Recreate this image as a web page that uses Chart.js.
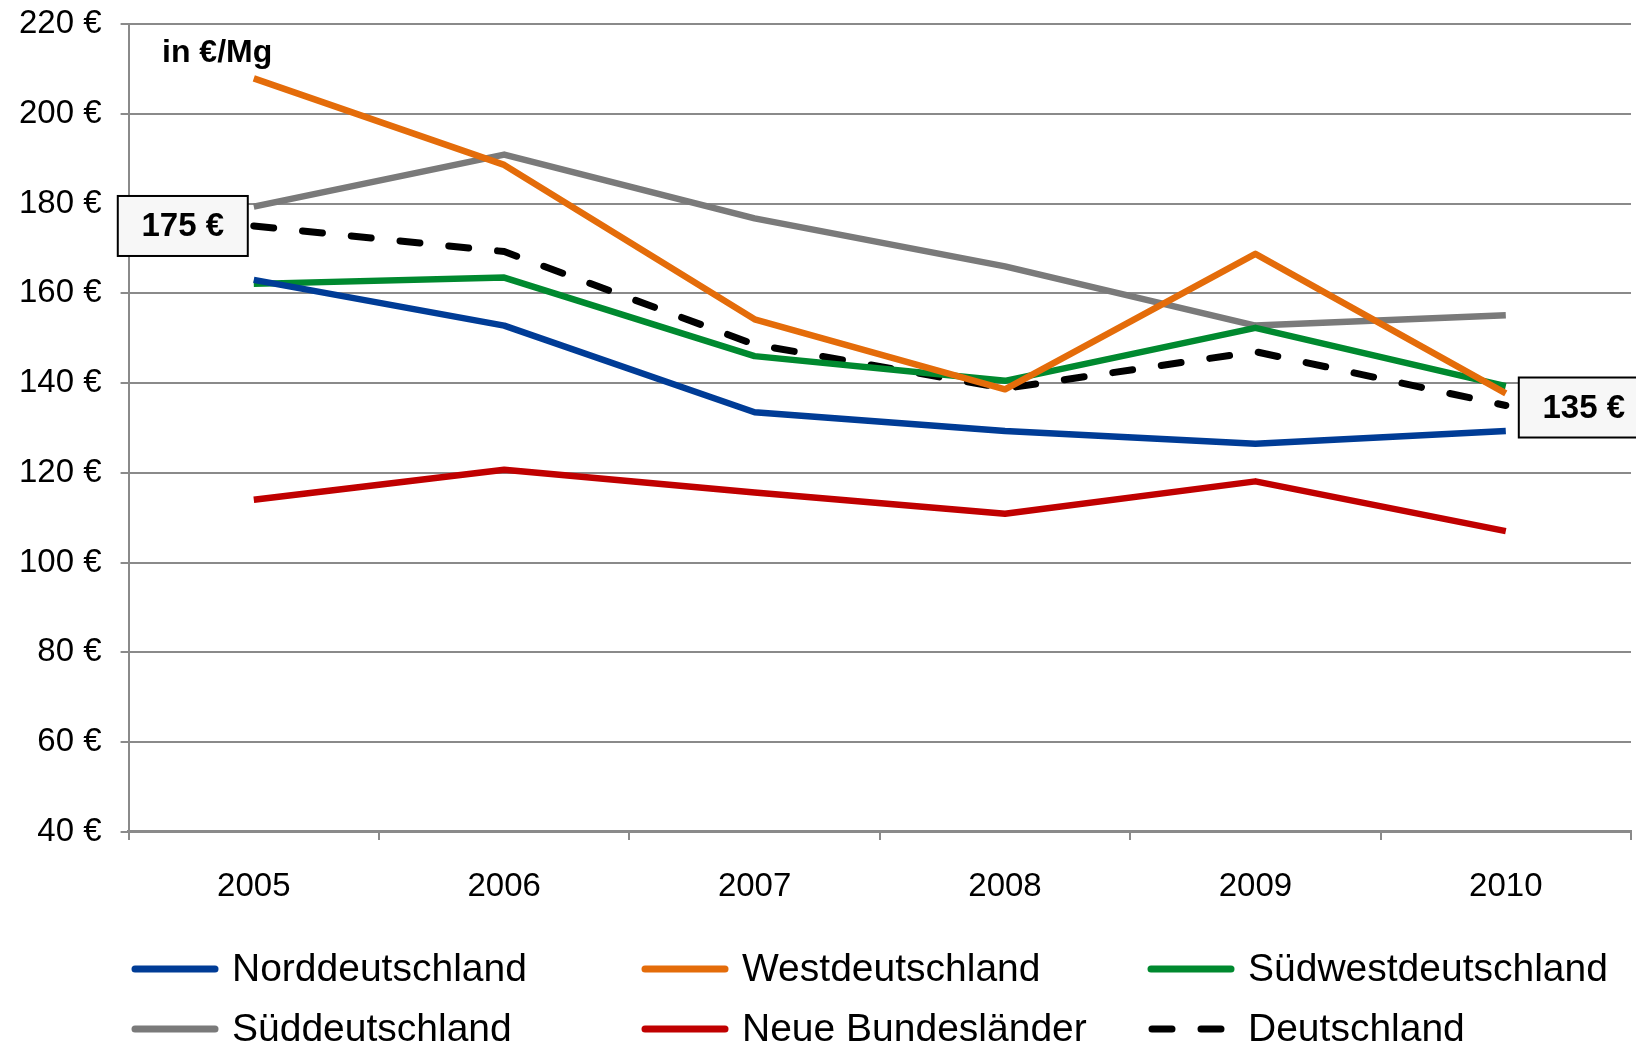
<!DOCTYPE html>
<html>
<head>
<meta charset="utf-8">
<script src="https://cdn.jsdelivr.net/npm/chart.js@4.4.0/dist/chart.umd.min.js"></script>
<style>
  html, body { margin: 0; padding: 0; background: #ffffff; }
  #wrap { position: relative; width: 1636px; height: 1045px; }
</style>
</head>
<body>
<div id="wrap"><canvas id="c" width="1636" height="1045"></canvas></div>
<script>
const years = ['2005', '2006', '2007', '2008', '2009', '2010'];
const norddeutschland   = [163.0, 152.8, 133.5, 129.3, 126.5, 129.3];
const westdeutschland   = [207.9, 188.6, 154.2, 138.6, 168.8, 137.7];
const suedwestdeutschland = [162.1, 163.5, 146.0, 140.5, 152.3, 139.3];
const sueddeutschland   = [179.3, 190.9, 176.7, 166.0, 152.8, 155.1];
const neueBundeslaender = [114.0, 120.7, 115.6, 110.9, 118.1, 107.0];
const deutschland       = [175.0, 169.3, 148.6, 138.8, 147.0, 135.0];
const yTicks = [40, 60, 80, 100, 120, 140, 160, 180, 200, 220];
const unitLabel = 'in €/Mg';

const FONT = '"Liberation Sans", Arial, sans-serif';
const GRID = '#8a8a8a';

const mk = (label, data, color, dash) => ({
  label, data,
  borderColor: color, backgroundColor: color,
  borderWidth: dash ? 7 : 6.5,
  borderDash: dash || [],
  borderCapStyle: dash ? 'round' : 'butt',
  borderJoinStyle: 'round',
  pointRadius: 0, pointHoverRadius: 0,
  tension: 0, fill: false
});

const datasets = [
  mk('Norddeutschland', norddeutschland, '#003c96'),
  mk('Westdeutschland', westdeutschland, '#e46c0a'),
  mk('Südwestdeutschland', suedwestdeutschland, '#00892f'),
  mk('Süddeutschland', sueddeutschland, '#7a7a7a'),
  mk('Neue Bundesländer', neueBundeslaender, '#c00000'),
  mk('Deutschland', deutschland, '#000000', [20, 29])
];

const fmt = v => Math.round(v) + ' €';

const overlay = {
  id: 'overlay',
  afterDatasetsDraw(chart) {
    const ctx = chart.ctx;
    ctx.save();
    // unit label
    ctx.font = 'bold 32px ' + FONT;
    ctx.fillStyle = '#000';
    ctx.textAlign = 'left';
    ctx.textBaseline = 'middle';
    ctx.fillText(unitLabel, 162, 53);

    // value boxes for Deutschland
    const idx = datasets.length - 1;
    const meta = chart.getDatasetMeta(idx);
    const first = meta.data[0], last = meta.data[meta.data.length - 1];
    const data = chart.data.datasets[idx].data;
    const W = 130, H = 60;
    const box = (x, y, txt) => {
      ctx.fillStyle = '#f7f7f7';
      ctx.fillRect(x, y, W, H);
      ctx.lineWidth = 2;
      ctx.strokeStyle = '#000';
      ctx.strokeRect(x, y, W, H);
      ctx.fillStyle = '#000';
      ctx.font = 'bold 33px ' + FONT;
      ctx.textAlign = 'center';
      ctx.textBaseline = 'middle';
      ctx.fillText(txt, x + W / 2, y + H / 2 + 1);
    };
    box(first.x - 6 - W, first.y - H / 2, fmt(data[0]));
    box(last.x + 13, last.y - H / 2 + 2, fmt(data[data.length - 1]));

    // legend
    const cols = [132, 642, 1148];
    const rows = [969, 1029];
    ctx.font = '39px ' + FONT;
    chart.data.datasets.forEach((ds, i) => {
      const cx = cols[i % 3], cy = rows[Math.floor(i / 3)];
      ctx.beginPath();
      ctx.strokeStyle = ds.borderColor;
      ctx.lineWidth = 7;
      ctx.lineCap = 'round';
      if (ds.borderDash && ds.borderDash.length) {
        ctx.setLineDash([20, 29]);
        ctx.moveTo(cx + 4, cy);
      } else {
        ctx.setLineDash([]);
        ctx.moveTo(cx + 3, cy);
      }
      ctx.lineTo(cx + 83, cy);
      ctx.stroke();
      ctx.setLineDash([]);
      ctx.fillStyle = '#000';
      ctx.textAlign = 'left';
      ctx.textBaseline = 'middle';
      ctx.fillText(ds.label, cx + 100, cy + 1);
    });
    ctx.restore();
  }
};

new Chart(document.getElementById('c'), {
  type: 'line',
  data: { labels: years, datasets },
  options: {
    responsive: false,
    animation: false,
    layout: { autoPadding: false, padding: { left: 0, right: 5, top: 24, bottom: 111.5 } },
    plugins: { legend: { display: false }, tooltip: { enabled: false } },
    scales: {
      x: {
        offset: true,
        grid: { display: true, offset: true, drawOnChartArea: false, drawTicks: true, tickLength: 8, color: GRID, lineWidth: 2 },
        border: { display: true, color: GRID, width: 3 },
        ticks: { color: '#000', font: { family: FONT, size: 33 }, padding: 27, maxRotation: 0 }
      },
      y: {
        min: 40, max: 220,
        afterBuildTicks: s => { s.ticks = yTicks.map(v => ({ value: v })); },
        grid: { color: GRID, lineWidth: 2, tickLength: 8 },
        border: { display: true, color: GRID, width: 2 },
        ticks: { color: '#000', font: { family: FONT, size: 33, lineHeight: 0.2 }, padding: 19, callback: v => v + ' €' }
      }
    }
  },
  plugins: [overlay]
});
</script>
</body>
</html>
